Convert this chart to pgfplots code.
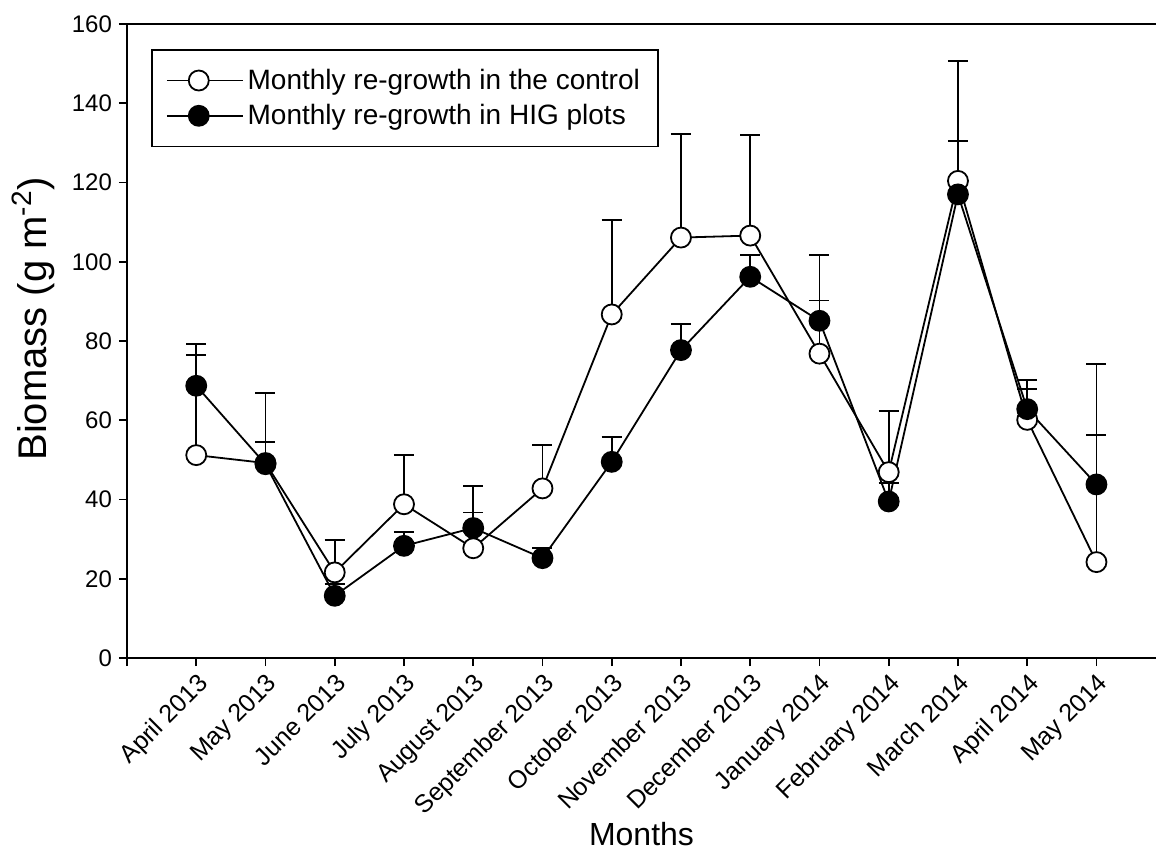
\documentclass[border=0pt]{standalone}
\usepackage{pgfplots}
\pgfplotsset{compat=1.18}
\usepackage{fontspec}
\setmainfont{Liberation Sans}
\begin{document}
\begin{tikzpicture}
\begin{axis}[
  name=ax,
  scale only axis,
  width=514.5pt, height=317pt,
  xmin=-1, xmax=13.86,
  ymin=0, ymax=160,
  axis x line*=box,
  axis y line*=left,
  axis line style={line width=0.9pt},
  xtick={-1,0,1,2,3,4,5,6,7,8,9,10,11,12,13},
  xticklabels={,April 2013,May 2013,June 2013,July 2013,August 2013,September 2013,October 2013,November 2013,December 2013,January 2014,February 2014,March 2014,April 2014,May 2014},
  xtick pos=bottom,
  ytick={0,20,...,160},
  ytick pos=left,
  tick align=outside,
  major tick length=4pt,
  tick style={line width=0.9pt, black},
  /pgf/number format/assume math mode=true,
  yticklabel style={font=\fontsize{12}{14}\selectfont},
  xticklabel style={font=\fontsize{12.5}{14}\selectfont, rotate=45, anchor=north east, inner sep=2pt},
  xlabel={Months},
  ylabel={Biomass (g m\textsuperscript{-2})},
  xlabel style={font=\fontsize{16}{19}\selectfont, at={(rel axis cs:0.5,0)}, anchor=center, yshift=-88pt},
  ylabel style={font=\fontsize{20}{24}\selectfont, at={(rel axis cs:-0.0913,0.535)}, anchor=center},
  legend style={at={(rel axis cs:0.0233,0.9606)}, anchor=north west, draw=black, line width=0.9pt,
    font=\fontsize{14}{16}\selectfont, inner xsep=7pt, inner ysep=7.5pt, row sep=2pt, legend cell align=left},
  legend image code/.code={\draw[mark repeat=2,mark phase=2,#1] plot coordinates {(0pt,0pt) (16pt,0pt) (32pt,0pt)}; \path (32pt,0pt) -- (38pt,0pt);},
]
\addplot[black, line width=0.9pt, mark=*, mark size=5pt, mark options={fill=white, line width=0.9pt},
  error bars/.cd, y dir=plus, y explicit, error bar style={line width=0.9pt}, error mark options={rotate=90, mark size=5pt, line width=0.9pt}]
  table[x=x, y=y, y error=e] {
x y e
0 51.2 25.2
1 49.2 17.7
2 21.6 8.2
3 38.8 12.5
4 27.7 15.7
5 42.8 11.0
6 86.7 23.8
7 106.1 26.2
8 106.6 25.3
9 76.8 24.9
10 46.9 15.4
11 120.4 30.3
12 60.1 7.7
13 24.2 50.0
};
\addlegendentry{Monthly re-growth in the control}
\addplot[black, line width=0.9pt, mark=*, mark size=5pt, mark options={fill=black, line width=0.9pt},
  error bars/.cd, y dir=plus, y explicit, error bar style={line width=0.9pt}, error mark options={rotate=90, mark size=5pt, line width=0.9pt}]
  table[x=x, y=y, y error=e] {
x y e
0 68.7 10.6
1 48.9 5.6
2 15.7 3.0
3 28.3 3.4
4 32.8 3.9
5 25.2 2.5
6 49.5 6.3
7 77.7 6.6
8 96.2 5.5
9 85.1 5.1
10 39.5 4.6
11 117.0 13.5
12 62.8 7.4
13 43.8 12.4
};
\addlegendentry{Monthly re-growth in HIG plots}
\end{axis}
\pgfresetboundingbox
\path (ax.south west) ++(-63.5pt,-96pt) coordinate (bl);
\path (ax.north east) ++(0pt,12pt) coordinate (tr);
\useasboundingbox (bl) rectangle (tr);
\end{tikzpicture}
\end{document}
